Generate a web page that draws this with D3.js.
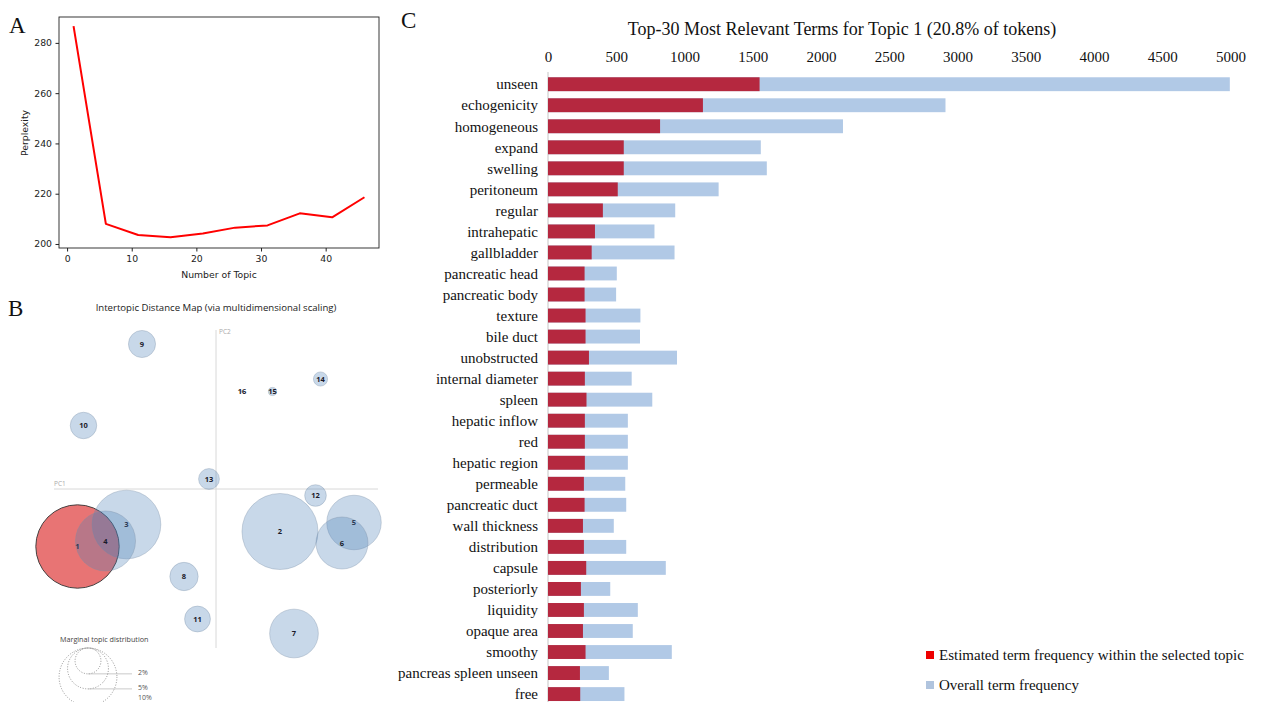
<!DOCTYPE html>
<html>
<head>
<meta charset="utf-8">
<script src="https://cdn.jsdelivr.net/npm/d3@7/dist/d3.min.js"></script>
<style>
  html, body { margin: 0; padding: 0; background: #fff; }
  svg { display: block; }
</style>
</head>
<body>
<svg id="fig" width="1265" height="702"></svg>
<script>
// ---------- Panel A: perplexity vs number of topics ----------
const topicCounts = [1, 6, 11, 16, 21, 26, 31, 36, 41, 46];
const perplexity  = [286.7, 208.0, 203.6, 202.7, 204.2, 206.5, 207.4, 212.2, 210.6, 218.6];
const perplexityTicksX = [0, 10, 20, 30, 40];
const perplexityTicksY = [200, 220, 240, 260, 280];

// ---------- Panel B: intertopic distance map ----------
const topicIds   = [1, 2, 3, 4, 5, 6, 7, 8, 9, 10, 11, 12, 13, 14, 15, 16];
const topicPC1   = [-0.277, 0.128, -0.179, -0.221, 0.276, 0.252, 0.156, -0.064, -0.148, -0.265, -0.037, 0.199, -0.014, 0.209, 0.113, 0.052];
const topicPC2   = [-0.115, -0.085, -0.071, -0.104, -0.067, -0.108, -0.289, -0.175, 0.290, 0.127, -0.260, -0.013, 0.020, 0.220, 0.195, 0.195];
const topicShare = [20.8, 17.3, 14.1, 10.8, 8.9, 8.1, 7.1, 2.4, 2.2, 2.1, 2.0, 1.4, 1.3, 0.6, 0.2, 0.01];
const legendShares = [2, 5, 10];
const selectedTopic = 1;

// ---------- Panel C: top-30 relevant terms for topic 1 ----------
const terms = ["unseen", "echogenicity", "homogeneous", "expand", "swelling", "peritoneum",
  "regular", "intrahepatic", "gallbladder", "pancreatic head", "pancreatic body", "texture",
  "bile duct", "unobstructed", "internal diameter", "spleen", "hepatic inflow", "red",
  "hepatic region", "permeable", "pancreatic duct", "wall thickness", "distribution",
  "capsule", "posteriorly", "liquidity", "opaque area", "smoothy", "pancreas spleen unseen", "free"];
const termTopicFreq = [1550, 1135, 821, 555, 555, 511, 402, 344, 320, 268, 268, 275, 275, 300, 270,
  282, 270, 270, 270, 263, 268, 256, 263, 280, 241, 263, 256, 275, 234, 236];
const termTotalFreq = [4995, 2912, 2161, 1559, 1603, 1250, 932, 780, 927, 504, 499, 677, 674, 945, 613,
  764, 585, 585, 585, 566, 573, 482, 573, 863, 456, 658, 621, 907, 446, 560];
const freqTicks = [0, 500, 1000, 1500, 2000, 2500, 3000, 3500, 4000, 4500, 5000];
const legendLabels = ["Estimated term frequency within the selected topic", "Overall term frequency"];

const svg = d3.select("#fig");
const serif = "'Liberation Serif', 'Times New Roman', serif";
const sans = "'DejaVu Sans', sans-serif";
const uiSans = "'Open Sans', 'Noto Sans', sans-serif";

svg.append("rect").attr("width", 1265).attr("height", 702).attr("fill", "#fff");

// panel letters
[["A", 9, 33], ["B", 8, 316], ["C", 401, 28]].forEach(([t, x, y]) => {
  svg.append("text").attr("x", x).attr("y", y).text(t)
    .attr("font-family", serif).attr("font-size", 23).attr("fill", "#111");
});

// ===== Panel A =====
{
  const g = svg.append("g");
  const x = d3.scaleLinear().domain([-1.25, 48.25]).range([59, 379]);
  const y = d3.scaleLinear().domain([198.4, 290.3]).range([248, 17]);

  const xAxis = d3.axisBottom(x).tickValues(perplexityTicksX).tickSize(3.5).tickPadding(3.5);
  const yAxis = d3.axisLeft(y).tickValues(perplexityTicksY).tickSize(3.5).tickPadding(3.5);

  const gx = g.append("g").attr("transform", "translate(0,248)").call(xAxis);
  const gy = g.append("g").attr("transform", "translate(59,0)").call(yAxis);
  [gx, gy].forEach(a => {
    a.select(".domain").remove();
    a.selectAll("line").attr("stroke", "#222");
    a.selectAll("text").attr("font-family", sans).attr("font-size", 9.3).attr("fill", "#222");
  });

  g.append("path")
    .datum(topicCounts.map((c, i) => [c, perplexity[i]]))
    .attr("d", d3.line().x(d => x(d[0])).y(d => y(d[1])))
    .attr("fill", "none").attr("stroke", "#f00").attr("stroke-width", 2)
    .attr("stroke-linejoin", "round");

  g.append("rect").attr("x", 59).attr("y", 17).attr("width", 320).attr("height", 231)
    .attr("fill", "none").attr("stroke", "#222").attr("stroke-width", 0.9);

  g.append("text").attr("x", 219).attr("y", 278).attr("text-anchor", "middle")
    .attr("font-family", sans).attr("font-size", 9.3).attr("fill", "#222").text("Number of Topic");
  g.append("text").attr("transform", "translate(28,133) rotate(-90)").attr("text-anchor", "middle")
    .attr("font-family", sans).attr("font-size", 9.3).attr("fill", "#222").text("Perplexity");
}

// ===== Panel B =====
{
  const g = svg.append("g");
  const x = d3.scaleLinear().domain([-0.324, 0.324]).range([54, 378]);
  const y = d3.scaleLinear().domain([0, 0.318]).range([489, 330]);
  const r = d3.scaleSqrt().domain([0, 20.8]).range([0, 41.7]);

  g.append("text").attr("x", 216).attr("y", 311).attr("text-anchor", "middle")
    .attr("font-family", uiSans).attr("font-size", 9.6).attr("fill", "#222")
    .text("Intertopic Distance Map (via multidimensional scaling)");

  // PC axes
  g.append("line").attr("x1", x(0)).attr("x2", x(0)).attr("y1", 330).attr("y2", 648)
    .attr("stroke", "#d8d8d8").attr("stroke-width", 1);
  g.append("line").attr("x1", 54).attr("x2", 378).attr("y1", y(0)).attr("y2", y(0))
    .attr("stroke", "#d8d8d8").attr("stroke-width", 1);
  g.append("text").attr("x", 54).attr("y", 486).text("PC1")
    .attr("font-family", uiSans).attr("font-size", 6.5).attr("fill", "#aaa");
  g.append("text").attr("x", x(0) + 3).attr("y", 334).text("PC2")
    .attr("font-family", uiSans).attr("font-size", 6.5).attr("fill", "#aaa");

  const topics = topicIds.map((id, i) => ({ id, pc1: topicPC1[i], pc2: topicPC2[i], share: topicShare[i] }));
  const dots = g.selectAll("g.topic").data(topics).join("g").attr("class", "topic")
    .attr("transform", d => `translate(${x(d.pc1)},${y(d.pc2)})`);
  dots.append("circle")
    .attr("r", d => r(d.share))
    .attr("fill", d => d.id === selectedTopic ? "#e87474" : "#4a7fb5")
    .attr("fill-opacity", d => d.id === selectedTopic ? 1 : 0.3)
    .attr("stroke", d => d.id === selectedTopic ? "#333" : "#7a8ea6")
    .attr("stroke-opacity", d => d.id === selectedTopic ? 0.9 : 0.35)
    .attr("stroke-width", 1);
  dots.append("text").text(d => d.id)
    .attr("text-anchor", "middle").attr("dy", "0.35em")
    .attr("font-family", uiSans).attr("font-size", 7.5).attr("font-weight", "bold")
    .attr("fill", "#1a1a2a");

  // marginal topic distribution legend
  const lg = g.append("g");
  lg.append("text").attr("x", 60).attr("y", 642).text("Marginal topic distribution")
    .attr("font-family", uiSans).attr("font-size", 7.2).attr("fill", "#444");
  const cx = 88, top = 648;
  legendShares.forEach(s => {
    const rr = r(s);
    lg.append("circle").attr("cx", cx).attr("cy", top + rr).attr("r", rr)
      .attr("fill", "none").attr("stroke", "#777").attr("stroke-width", 0.8)
      .attr("stroke-dasharray", "1,1.6");
    lg.append("line").attr("x1", cx).attr("x2", 132).attr("y1", top + 2 * rr).attr("y2", top + 2 * rr)
      .attr("stroke", "#bbb").attr("stroke-width", 0.8);
    lg.append("text").attr("x", 138).attr("y", Math.min(top + 2 * rr + 1, 700)).text(s + "%")
      .attr("font-family", uiSans).attr("font-size", 7).attr("fill", "#555");
  });
}

// ===== Panel C =====
{
  const g = svg.append("g");
  const x = d3.scaleLinear().domain([0, 5000]).range([548, 1230.5]);
  const y = d3.scaleBand().domain(terms).range([73.7, 704.6]).paddingInner(0.34).paddingOuter(0.17);

  g.append("text").attr("x", 842).attr("y", 35).attr("text-anchor", "middle")
    .attr("font-family", serif).attr("font-size", 18).attr("fill", "#111")
    .text("Top-30 Most Relevant Terms for Topic 1 (20.8% of tokens)");

  const ax = d3.axisTop(x).tickValues(freqTicks).tickSize(0).tickPadding(0).tickFormat(d3.format("d"));
  const gx = g.append("g").attr("transform", "translate(0,62)").call(ax);
  gx.select(".domain").remove();
  gx.selectAll("text").attr("font-family", serif).attr("font-size", 15).attr("fill", "#111");

  g.append("line").attr("x1", x(0)).attr("x2", x(0)).attr("y1", 72).attr("y2", 702)
    .attr("stroke", "#e2e2e2").attr("stroke-width", 2);

  const rows = terms.map((t, i) => ({ term: t, topic: termTopicFreq[i], total: termTotalFreq[i] }));
  g.selectAll("rect.total").data(rows).join("rect").attr("class", "total")
    .attr("x", x(0)).attr("y", d => y(d.term)).attr("height", y.bandwidth())
    .attr("width", d => x(d.total) - x(0)).attr("fill", "#b1c9e6");
  g.selectAll("rect.topic").data(rows).join("rect").attr("class", "topic")
    .attr("x", x(0)).attr("y", d => y(d.term)).attr("height", y.bandwidth())
    .attr("width", d => x(d.topic) - x(0)).attr("fill", "#b5283f");
  g.selectAll("text.term").data(rows).join("text").attr("class", "term")
    .attr("x", 538).attr("y", d => y(d.term) + y.bandwidth() / 2).attr("dy", "0.35em")
    .attr("text-anchor", "end").attr("font-family", serif).attr("font-size", 15).attr("fill", "#111")
    .text(d => d.term);

  const legendColors = ["#ee0000", "#b0c4de"];
  legendLabels.forEach((lab, i) => {
    const yy = 655 + i * 30;
    g.append("rect").attr("x", 926).attr("y", yy - 4).attr("width", 8).attr("height", 8)
      .attr("fill", legendColors[i]);
    g.append("text").attr("x", 939).attr("y", yy).attr("dy", "0.35em")
      .attr("font-family", serif).attr("font-size", 15).attr("fill", "#111").text(lab);
  });
}
</script>
</body>
</html>
